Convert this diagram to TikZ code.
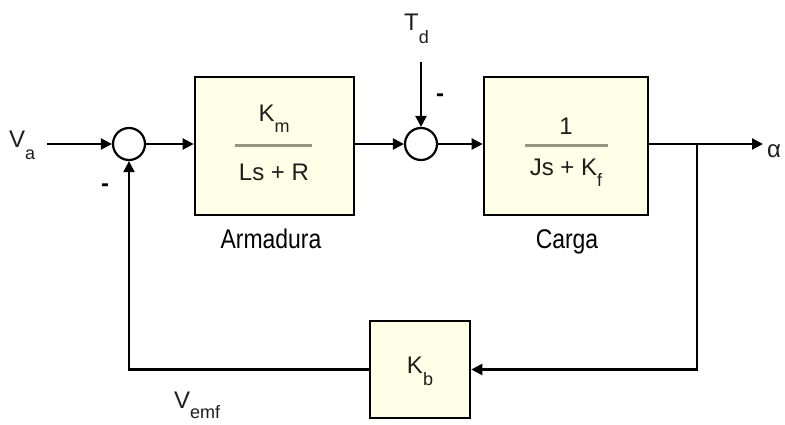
\documentclass[tikz,border=0pt]{standalone}
\usepackage{fontspec}
\setmainfont{Liberation Sans}
\usetikzlibrary{arrows.meta}
\definecolor{blockfill}{RGB}{255,255,232}
\definecolor{barcol}{RGB}{150,150,128}
\definecolor{inkcol}{RGB}{30,30,30}
\newcommand\lowsub[2][11pt]{\raisebox{-#1}{\fontsize{18}{18}\selectfont #2}}
\begin{document}
\begin{tikzpicture}[x=1pt,y=-1pt,
  conn/.style={line width=2.2pt,draw=black},
  arr/.style={conn,-{Triangle[length=11pt,width=11pt]}},
  blockbox/.style={draw=black,line width=2.6pt,fill=blockfill,rectangle,inner sep=0pt},
  sumnode/.style={draw=black,line width=2.2pt,circle,fill=white,minimum size=32pt,inner sep=0pt},
  lbl/.style={font=\fontsize{24}{26}\selectfont,text=inkcol,inner sep=0pt},
  caption/.style={font=\fontsize{27}{29}\selectfont,text=black,inner sep=0pt},
  fbar/.style={draw=barcol,line width=3pt},
  minus/.style={font=\fontsize{24}{26}\selectfont\bfseries,inner sep=0pt}]
\useasboundingbox[fill=white] (0,0) rectangle (785,424);

% blocks
\node[blockbox,minimum width=159pt,minimum height=138pt] (b1) at (274.5,146) {};
\node[blockbox,minimum width=164pt,minimum height=138pt] (b2) at (566,146) {};
\node[blockbox,minimum width=100pt,minimum height=97pt] (kb) at (420,369.5) {};

% summing junctions
\node[sumnode] (s1) at (129,144) {};
\node[sumnode] (s2) at (421,144) {};

% fraction in block 1
\node[lbl,anchor=base] (n1) at (274,121) {K\lowsub{m}};
\draw[fbar] (235,145) -- (312,145);
\node[lbl,anchor=base] (d1) at (274,180) {Ls + R};

% fraction in block 2
\node[lbl,anchor=base] (n2) at (566,134) {1};
\draw[fbar] (525,145) -- (608,145);
\node[lbl,anchor=base] (d2) at (566,175) {Js + K\lowsub{f}};

% feedback block text
\node[lbl,anchor=base] (kbt) at (420,373) {K\lowsub[12pt]{b}};

% captions
\node[caption,anchor=base] (arm) at (271,248) {\scalebox{0.85}[1]{Armadura}};
\node[caption,anchor=base] (car) at (567,248) {\scalebox{0.85}[1]{Carga}};

% signal labels
\node[lbl,anchor=base west] (va) at (9,147) {V\lowsub[12pt]{a}};
\node[lbl,anchor=base west] (td) at (404,30) {T\lowsub[13pt]{d}};
\node[lbl,anchor=base west] (al) at (767,157) {α};
\node[lbl,anchor=base west] (ve) at (174,408) {V\lowsub[10pt]{emf}};

% minus signs
\node[minus] (m1) at (105,188) {-};
\node[minus] (m2) at (440,98) {-};

% connectors
\coordinate (vain) at (47,144);
\coordinate (tdin) at (421,62);
\coordinate (branch) at (697,144);
\coordinate (out) at (763,144);

\draw[arr] (vain) -- (s1.west);
\draw[arr] (s1.east) -- (s1.east -| b1.west);
\draw[arr] (s1.east -| b1.east) -- (s2.west);
\draw[arr] (tdin) -- (s2.north);
\draw[arr] (s2.east) -- (s2.east -| b2.west);
\draw[conn] (s1.east -| b2.east) -- (branch);
\draw[arr] (branch) -- (out);
\draw[arr] (branch) |- (kb.east);
\draw[arr] (kb.west) -| (s1.south);
\end{tikzpicture}
\end{document}
